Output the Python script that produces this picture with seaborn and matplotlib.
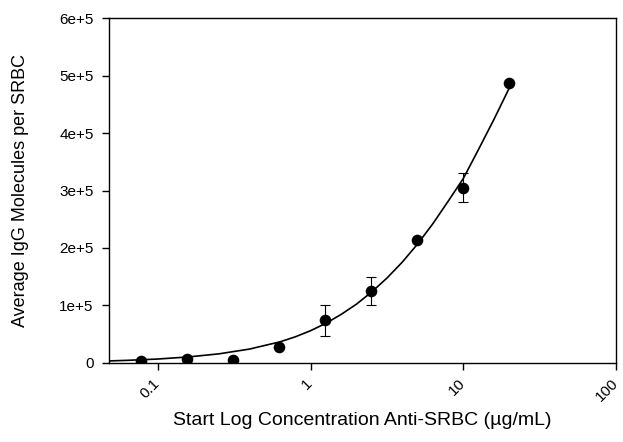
import numpy as np
import pandas as pd
import matplotlib
matplotlib.use("Agg")
import matplotlib.pyplot as plt
import seaborn as sns

# measured points (ug/mL vs molecules per SRBC)
conc = [0.078, 0.156, 0.3125, 0.625, 1.25, 2.5, 5, 10, 20]
igg = [4000, 6000, 5500, 28500, 74000, 125000, 213000, 305000, 487000]
igg_err = [0, 0, 0, 0, 27000, 25000, 0, 25000, 0]

# regression curve
fit_x = [0.048, 0.063, 0.1, 0.158, 0.251, 0.398, 0.631, 0.794, 1.0, 1.26,
         1.585, 2.0, 2.51, 3.16, 3.98, 5.01, 6.31, 7.94, 10, 12.6, 15.85, 20]
fit_y = [3400, 4400, 6700, 10300, 15700, 24000, 36600, 45300, 56000, 68900,
         84300, 102300, 123300, 147500, 175200, 206700, 242000, 281000,
         321000, 372000, 423600, 478600]

xticks = [0.1, 1, 10, 100]
xtick_labels = ["0.1", "1", "10", "100"]
yticks = [0, 100000, 200000, 300000, 400000, 500000, 600000]
ytick_labels = ["0", "1e+5", "2e+5", "3e+5", "4e+5", "5e+5", "6e+5"]

sns.set_style("ticks")
plt.rcParams["font.family"] = ["Liberation Sans", "DejaVu Sans"]
plt.rcParams["text.color"] = "black"
plt.rcParams["axes.labelcolor"] = "black"
plt.rcParams["xtick.color"] = "black"
plt.rcParams["ytick.color"] = "black"

df = pd.DataFrame({"conc": conc, "igg": igg, "err": igg_err})
fit = pd.DataFrame({"x": fit_x, "y": fit_y})

fig = plt.figure(figsize=(6.23, 4.42), dpi=100)
ax = fig.add_axes([0.175, 0.179, 0.814, 0.780])

sns.lineplot(data=fit, x="x", y="y", color="black", linewidth=1.2, ax=ax)
ax.errorbar(df["conc"], df["igg"], yerr=df["err"], fmt="none",
            ecolor="black", elinewidth=0.8, capsize=3.5, capthick=0.8)
sns.scatterplot(data=df, x="conc", y="igg", color="black", s=70,
                edgecolor="black", linewidth=0, zorder=3, ax=ax)

ax.set_xscale("log")
ax.set_xlim(0.048, 100)
ax.set_ylim(0, 600000)
ax.set_xticks(xticks)
ax.set_xticklabels(xtick_labels, rotation=45, ha="right", va="center",
                   rotation_mode="anchor", fontsize=11)
ax.minorticks_off()
ax.set_yticks(yticks)
ax.set_yticklabels(ytick_labels, fontsize=11)
ax.tick_params(direction="out", length=5, width=1, color="black", pad=6)
ax.tick_params(axis="x", pad=8)

for s in ax.spines.values():
    s.set_visible(True)
    s.set_color("black")
    s.set_linewidth(1.0)

ax.set_xlabel("Start Log Concentration Anti-SRBC (\u00b5g/mL)", fontsize=14, labelpad=6)
ax.set_ylabel("Average IgG Molecules per SRBC", fontsize=13, labelpad=22)

fig.savefig("out.png", dpi=100)
